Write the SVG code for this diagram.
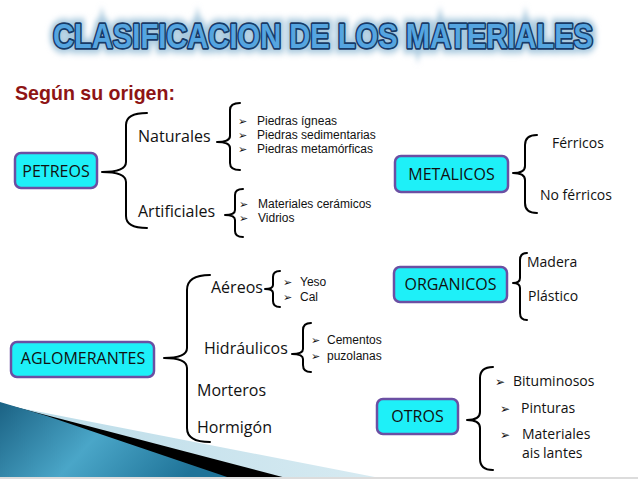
<svg xmlns="http://www.w3.org/2000/svg" width="638" height="479" viewBox="0 0 638 479">
<defs>
<linearGradient id="gDark" x1="0" y1="0" x2="1" y2="0.3">
<stop offset="0" stop-color="#1b6284"/>
<stop offset="0.5" stop-color="#4aa6c8"/>
<stop offset="1" stop-color="#1f7398"/>
</linearGradient>
<linearGradient id="gLight" x1="0" y1="0" x2="1" y2="0">
<stop offset="0" stop-color="#b9dbe8"/>
<stop offset="1" stop-color="#d8ebf2"/>
</linearGradient>
<filter id="glow" x="-10%" y="-50%" width="120%" height="200%">
<feGaussianBlur stdDeviation="2.5"/>
</filter>
<style>
.box{fill:#1ef0f8;stroke:#6b4fa3;stroke-width:2.5}
.bt{font-family:"Open Sans","DejaVu Sans",sans-serif;font-size:16px;fill:#111;text-anchor:middle}
.lb{font-family:"Open Sans","DejaVu Sans",sans-serif;font-size:16px;fill:#111}
.lb2{font-family:"Open Sans","DejaVu Sans",sans-serif;font-size:14px;fill:#111}
.it{font-family:"Liberation Sans",Arial,sans-serif;font-size:12px;fill:#111}
.ar{font-family:"DejaVu Sans",sans-serif;font-size:11px;fill:#111}
.ar2{font-family:"DejaVu Sans",sans-serif;font-size:12px;fill:#111}
.br{fill:none;stroke:#000;stroke-width:2;stroke-linecap:round;stroke-linejoin:round}
.tt{font-family:"Liberation Sans",Arial,sans-serif;font-weight:bold;font-size:26px;text-anchor:middle}
</style>
</defs>
<rect width="638" height="479" fill="#ffffff"/>

<!-- decorative swoosh -->
<polygon points="20,408 385,479 0,479 0,404" fill="url(#gLight)"/>
<polygon points="0,403 290,479 0,479" fill="#000"/>
<polygon points="0,402 47,416 233,479 0,479" fill="url(#gDark)"/>
<rect x="0" y="477" width="638" height="2" fill="#dcdcdc"/>

<!-- title -->
<g id="title" transform="translate(323,48) scale(1,1.33)">
<text class="tt" x="0" y="0" textLength="540" lengthAdjust="spacingAndGlyphs" fill="#9fc3dc" stroke="#a9c9de" stroke-width="8" filter="url(#glow)">CLASIFICACION DE LOS MATERIALES</text>
<text class="tt" x="0" y="0" textLength="540" lengthAdjust="spacingAndGlyphs" fill="#55a5e0" stroke="#173a66" stroke-width="2.6" paint-order="stroke" stroke-linejoin="round">CLASIFICACION DE LOS MATERIALES</text>
</g>
<text x="15" y="100" textLength="160" lengthAdjust="spacingAndGlyphs" font-family="'Liberation Sans',Arial,sans-serif" font-weight="bold" font-size="21" fill="#8e1414">Según su origen:</text>

<!-- connectors (braces) -->
<g id="connectors">
<path class="br" d="M147,113 Q126,113 126,125 L126,162 Q126,172 102,172 Q126,172 126,182 L126,216 Q126,228 147,228"/>
<path class="br" d="M240,103 Q230,103 230,110 L230,136 Q230,142 217,142 Q230,142 230,148 L230,163 Q230,170 240,170"/>
<path class="br" d="M243,189 Q235,189 235,195 L235,210 Q235,215 225,215 Q235,215 235,220 L235,231 Q235,237 243,237"/>
<path class="br" d="M537,135 Q525,135 525,145 L525,166 Q525,173 513,173 Q525,173 525,180 L525,203 Q525,213 537,213"/>
<path class="br" d="M527,253 Q520,253 520,260 L520,278 Q520,283 513,283 Q520,283 520,288 L520,313 Q520,320 527,320"/>
<path class="br" d="M210,275 Q187,275 187,290 L187,348 Q187,358 164,358 Q187,358 187,368 L187,428 Q187,442 210,442"/>
<path class="br" d="M280,271 Q273,271 273,277 L273,285 Q273,289 265,289 Q273,289 273,293 L273,301 Q273,307 280,307"/>
<path class="br" d="M311,323 Q303,323 303,330 L303,349 Q303,354 292,354 Q303,354 303,359 L303,365 Q303,372 311,372"/>
<path class="br" d="M493,367 Q480,367 480,378 L480,412 Q480,420 467,420 Q480,420 480,428 L480,459 Q480,470 493,470"/>
</g>

<!-- PETREOS -->
<g id="petreos">
<rect class="box" x="15" y="153" width="82" height="35" rx="6"/>
<text class="bt" x="56" y="177">PETREOS</text>
</g>
<g id="naturales">
<text class="lb" x="138" y="142">Naturales</text>
</g>
<g id="naturales-items">
<text class="ar" x="238" y="125">➢</text><text class="it" x="257" y="125">Piedras ígneas</text>
<text class="ar" x="238" y="139">➢</text><text class="it" x="257" y="139">Piedras sedimentarias</text>
<text class="ar" x="238" y="153">➢</text><text class="it" x="257" y="153">Piedras metamórficas</text>
</g>
<g id="artificiales">
<text class="lb" x="138" y="217">Artificiales</text>
</g>
<g id="artificiales-items">
<text class="ar" x="239" y="208">➢</text><text class="it" x="258" y="208">Materiales cerámicos</text>
<text class="ar" x="239" y="222">➢</text><text class="it" x="258" y="222">Vidrios</text>
</g>

<!-- METALICOS -->
<g id="metalicos">
<rect class="box" x="395" y="156" width="113" height="36" rx="6"/>
<text class="bt" x="451.5" y="180">METALICOS</text>
</g>
<g id="ferricos"><text class="lb2" x="552" y="148">Férricos</text></g>
<g id="noferricos"><text class="lb2" x="540" y="200">No férricos</text></g>

<!-- ORGANICOS -->
<g id="organicos">
<rect class="box" x="394" y="267" width="113" height="35" rx="6"/>
<text class="bt" x="450.5" y="290">ORGANICOS</text>
</g>
<g id="madera"><text class="lb2" x="527" y="267">Madera</text></g>
<g id="plastico"><text class="lb2" x="528" y="301">Plástico</text></g>

<!-- AGLOMERANTES -->
<g id="aglomerantes">
<rect class="box" x="11" y="342" width="143" height="35" rx="6"/>
<text class="bt" x="83" y="364">AGLOMERANTES</text>
</g>
<g id="aereos"><text class="lb" x="211" y="293">Aéreos</text></g>
<g id="aereos-items">
<text class="ar" x="283" y="286">➢</text><text class="it" x="300" y="286">Yeso</text>
<text class="ar" x="283" y="301">➢</text><text class="it" x="300" y="301">Cal</text>
</g>
<g id="hidraulicos"><text class="lb" x="204" y="354">Hidráulicos</text></g>
<g id="hidraulicos-items">
<text class="ar" x="311" y="344">➢</text><text class="it" x="327" y="344">Cementos</text>
<text class="ar" x="311" y="360">➢</text><text class="it" x="327" y="360">puzolanas</text>
</g>
<g id="morteros"><text class="lb" x="197" y="396">Morteros</text></g>
<g id="hormigon"><text class="lb" x="197" y="433">Hormigón</text></g>

<!-- OTROS -->
<g id="otros">
<rect class="box" x="377" y="399" width="81" height="35" rx="6"/>
<text class="bt" x="417.5" y="422">OTROS</text>
</g>
<g id="otros-items">
<text class="ar2" x="495" y="386">➢</text><text class="lb2" x="513" y="386">Bituminosos</text>
<text class="ar2" x="500" y="413">➢</text><text class="lb2" x="521" y="413">Pinturas</text>
<text class="ar2" x="500" y="439">➢</text><text class="lb2" x="522" y="439">Materiales</text>
<text class="lb2" x="522" y="458">ais<tspan dx="3">lantes</tspan></text>
</g>
</svg>
